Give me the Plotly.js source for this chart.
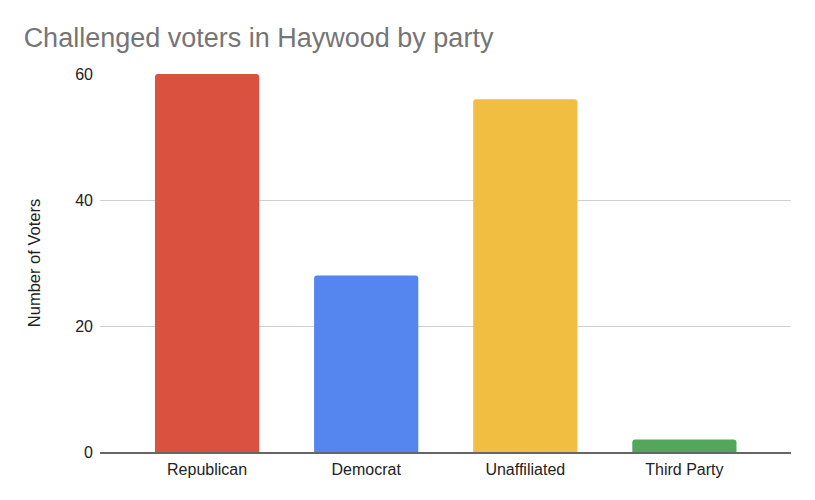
<!DOCTYPE html>
<html><head><meta charset="utf-8">
<script src="https://cdn.plot.ly/plotly-3.0.1.min.js"></script>
<style>html,body{margin:0;padding:0;background:#fff;}#chart{width:815px;height:500px;}</style>
</head><body><div id="chart"></div>
<script>
const categories = ["Republican", "Democrat", "Unaffiliated", "Third Party"];
const voters = [60, 28, 56, 2];
const barColors = ["#DB5140", "#5585EE", "#F1BE42", "#52A75B"];
const yTicks = [0, 20, 40, 60];

const trace = {
  type: "bar",
  x: categories,
  y: voters,
  marker: {color: barColors, cornerradius: 3},
  width: 0.655,
  hoverinfo: "x+y"
};
const layout = {
  width: 815, height: 500,
  margin: {l: 100, r: 24, t: 74, b: 48},
  paper_bgcolor: "#fff", plot_bgcolor: "#fff",
  font: {family: "Arial, 'Liberation Sans', sans-serif", color: "#222", size: 16},
  title: {text: "Challenged voters in Haywood by party", x: 0.029, xanchor: "left", y: 0.925, yanchor: "middle",
          font: {size: 27, color: "#757575", family: "Arial, 'Liberation Sans', sans-serif"}},
  xaxis: {type: "category", range: [-0.673, 3.67], showgrid: false, showline: true, linecolor: "#666", linewidth: 1.5,
          ticks: "", ticklabelstandoff: 2, tickfont: {size: 16, color: "#222"}, fixedrange: true},
  yaxis: {range: [0, 60], tickvals: yTicks, ticktext: yTicks.map(String), showgrid: true, gridcolor: "#d0d0d0", gridwidth: 1,
          zeroline: false, showline: false, ticks: "", ticklabelstandoff: 6, tickfont: {size: 16, color: "#222"},
          title: {text: "Number of Voters", font: {size: 16.5, color: "#222"}, standoff: 30}, fixedrange: true},
  showlegend: false
};
Plotly.newPlot("chart", [trace], layout, {displayModeBar: false, staticPlot: true});
</script></body></html>
